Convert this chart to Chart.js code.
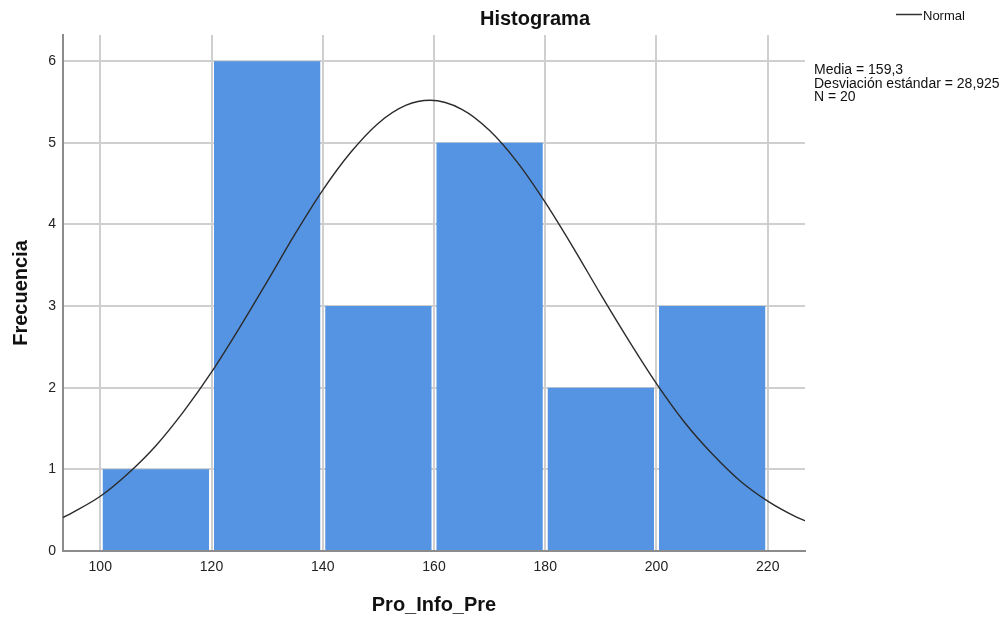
<!DOCTYPE html>
<html>
<head>
<meta charset="utf-8">
<script src="https://cdn.jsdelivr.net/npm/chart.js@4.4.1/dist/chart.umd.min.js"></script>
<style>
html,body{margin:0;padding:0;background:#fff;}
#wrap{width:1006px;height:620px;}
</style>
</head>
<body>
<div id="wrap"><canvas id="chart" width="1006" height="620"></canvas></div>
<script>
// ===== DATA =====
const binCenters = [110, 130, 150, 170, 190, 210];
const binCounts = [1, 6, 3, 5, 2, 3];
const xTicks = [100, 120, 140, 160, 180, 200, 220];
const yTicks = [0, 1, 2, 3, 4, 5, 6];
// normal curve
const curveX = [93.3, 95, 100, 105, 110, 115, 120, 125, 130, 135, 140, 145, 150, 155, 159.3, 165, 170, 175, 180, 185, 190, 195, 200, 205, 210, 215, 220, 225, 226.7];
const curveY = [0.41, 0.47, 0.67, 0.95, 1.29, 1.71, 2.19, 2.73, 3.30, 3.88, 4.42, 4.88, 5.24, 5.46, 5.52, 5.41, 5.15, 4.76, 4.27, 3.72, 3.14, 2.58, 2.05, 1.58, 1.19, 0.86, 0.61, 0.42, 0.37];
const statLines = ["Media = 159,3", "Desviación estándar = 28,925", "N = 20"];

const FONT = "'Liberation Sans', Arial, sans-serif";

// ===== TEXT OVERLAY =====
const overlay = {
  id: "overlay",
  afterDraw(chart) {
    const ctx = chart.ctx;
    ctx.save();
    ctx.fillStyle = "#111";
    ctx.textBaseline = "alphabetic";

    // title
    ctx.font = "bold 20px " + FONT;
    ctx.textAlign = "center";
    ctx.fillText("Histograma", 535, 25);

    // legend
    ctx.strokeStyle = "#333";
    ctx.lineWidth = 1.5;
    ctx.beginPath();
    ctx.moveTo(896, 14.5);
    ctx.lineTo(922, 14.5);
    ctx.stroke();
    ctx.font = "13px " + FONT;
    ctx.textAlign = "left";
    ctx.fillText("Normal", 923, 20);

    // stats
    ctx.font = "14px " + FONT;
    statLines.forEach((s, i) => ctx.fillText(s, 814, 74 + i * 13.5));
    ctx.restore();
  }
};

// ===== CHART =====
const ctx = document.getElementById("chart").getContext("2d");

new Chart(ctx, {
  type: "bar",
  data: {
    datasets: [
      {
        type: "line",
        data: curveX.map((x, i) => ({x, y: curveY[i]})),
        borderColor: "#2b2b2b",
        borderWidth: 1.4,
        pointRadius: 0,
        cubicInterpolationMode: "monotone",
        fill: false,
        order: 0
      },
      {
        type: "bar",
        data: binCenters.map((x, i) => ({x, y: binCounts[i]})),
        backgroundColor: "#5594e3",
        borderWidth: 0,
        barPercentage: 0.955,
        categoryPercentage: 1,
        order: 1
      }
    ]
  },
  options: {
    responsive: false,
    devicePixelRatio: 1,
    animation: false,
    layout: {padding: {top: 35, right: 201, bottom: 0, left: 0}},
    plugins: {
      legend: {display: false},
      tooltip: {enabled: false},
      title: {display: false}
    },
    scales: {
      x: {
        type: "linear",
        min: 93.3,
        max: 226.7,
        offset: false,
        afterBuildTicks: s => { s.ticks = xTicks.map(v => ({value: v})); },
        afterFit: s => { s.height = 69; },
        grid: {color: "#cfcfcf", lineWidth: 2, drawTicks: false, offset: false},
        border: {color: "#8c8c8c", width: 2},
        ticks: {color: "#222", padding: 8, font: {family: FONT, size: 14}, maxRotation: 0},
        title: {display: true, text: "Pro_Info_Pre", color: "#111",
                font: {family: FONT, size: 20, weight: "bold"}, padding: {top: 0, bottom: 3}}
      },
      y: {
        min: 0,
        max: 6.32,
        afterBuildTicks: s => { s.ticks = yTicks.map(v => ({value: v})); },
        afterFit: s => { s.width = 63; },
        grid: {color: "#cfcfcf", lineWidth: 2, drawTicks: false},
        border: {color: "#8c8c8c", width: 2},
        ticks: {color: "#222", padding: 7, font: {family: FONT, size: 14}},
        title: {display: true, text: "Frecuencia", color: "#111",
                font: {family: FONT, size: 20, weight: "bold"}, padding: {top: 9, bottom: 0}}
      }
    }
  },
  plugins: [overlay]
});
</script>
</body>
</html>
